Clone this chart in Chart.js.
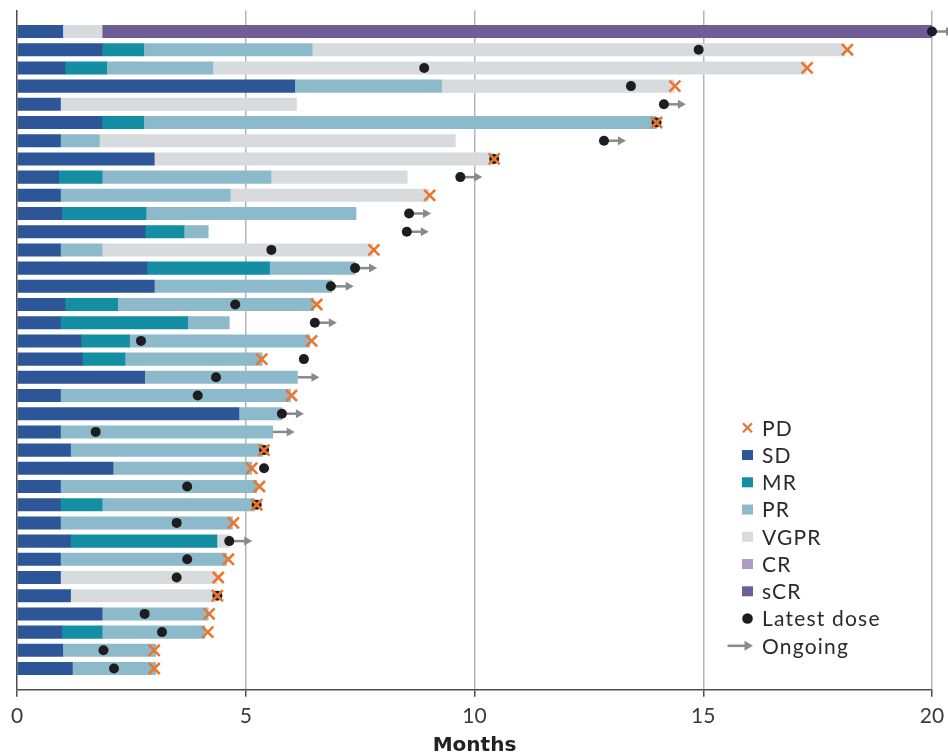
<!DOCTYPE html>
<html>
<head>
<meta charset="utf-8">
<script src="https://cdn.jsdelivr.net/npm/chart.js@4.4.1/dist/chart.umd.min.js"></script>
<style>
  html, body { margin: 0; padding: 0; background: #fff; }
  #wrap { width: 948px; height: 754px; position: relative; }
</style>
</head>
<body>
<div id="wrap"><canvas id="swimmer"></canvas></div>
<script>
// one entry per patient, top row first
// months spent in each response category (null = not reached)
const sd   = [1.0, 1.86, 1.05, 6.07, 0.95, 1.86, 0.95, 3.0, 0.91, 0.95, 0.98, 2.8, 0.95, 2.84, 3.0, 1.05, 0.95, 1.4, 1.43, 2.79, 0.95, 4.85, 0.95, 1.17, 2.1, 0.95, 0.95, 0.95, 1.17, 0.95, 0.95, 1.17, 1.86, 0.98, 1.0, 1.21];
const mr   = [null, 0.91, 0.91, null, null, 0.91, null, null, 0.95, null, 1.84, 0.85, null, 2.68, null, 1.15, 2.78, 1.06, 0.93, null, null, null, null, null, null, null, 0.91, null, 3.2, null, null, null, null, 0.88, null, null];
const pr   = [null, 3.68, 2.32, 3.21, null, 11.2, 0.85, null, 3.69, 3.71, 4.59, 0.53, 0.91, 1.87, 3.88, 4.28, 0.91, 3.94, 3.0, 3.34, 5.03, 0.94, 4.64, 4.2, 3.03, 4.29, 3.34, 3.76, null, 3.63, null, null, 2.32, 2.25, 2.03, 1.82];
const vgpr = [0.86, 11.65, 12.97, 5.09, 5.16, null, 7.78, 7.43, 2.98, 4.34, null, null, 5.92, null, null, null, null, null, null, null, null, null, null, null, null, null, null, null, 0.29, null, 3.42, 3.18, null, null, null, null];
const cr   = new Array(36).fill(null);
const scr  = [18.14, null, null, null, null, null, null, null, null, null, null, null, null, null, null, null, null, null, null, null, null, null, null, null, null, null, null, null, null, null, null, null, null, null, null, null];

// month of progressive disease
const pd = [null, 18.15, 17.27, 14.38, null, 13.98, null, 10.43, null, 9.02, null, null, 7.8, null, null, 6.55, null, 6.44, 5.35, null, 6.0, null, null, 5.4, 5.13, 5.3, 5.24, 4.73, null, 4.62, 4.4, 4.38, 4.2, 4.17, 3.0, 3.0];
// month of latest dose
const latestDose = [20, 14.9, 8.9, 13.42, 14.14, 13.98, 12.83, 10.43, 9.69, null, 8.57, 8.52, 5.56, 7.39, 6.86, 4.77, 6.51, 2.71, 6.27, 4.35, 3.95, 5.79, 1.72, 5.4, 5.4, 3.72, 5.24, 3.49, 4.64, 3.72, 3.49, 4.38, 2.79, 3.17, 1.89, 2.12];
// 1 = still on treatment
const ongoing = [1, 0, 0, 0, 1, 0, 1, 0, 1, 0, 1, 1, 0, 1, 1, 0, 1, 0, 0, 1, 0, 1, 1, 0, 0, 0, 0, 0, 1, 0, 0, 0, 0, 0, 0, 0];

const monthTicks = [0, 5, 10, 15, 20];
const responseNames = ['SD', 'MR', 'PR', 'VGPR', 'CR', 'sCR'];
const responseColors = ['#2c5697', '#138ea2', '#8dbacb', '#d7dbde', '#ab9dc7', '#705d97'];
const legendLabels = ['PD', 'SD', 'MR', 'PR', 'VGPR', 'CR', 'sCR', 'Latest dose', 'Ongoing'];

const pdColor = '#e87630';
const doseColor = '#1d1d1f';
const arrowColor = '#8a8a8a';

const segments = [sd, mr, pr, vgpr, cr, scr];

function toPoints(arr) {
  return arr.map((v, i) => ({ x: v, y: i + 1 }));
}

function rowTotal(i) {
  let t = 0;
  segments.forEach(s => { if (s[i] != null) t += s[i]; });
  return t;
}

const barSets = segments.map((s, k) => ({
  type: 'bar',
  label: responseNames[k],
  data: toPoints(s),
  backgroundColor: responseColors[k],
  borderWidth: 0,
  barThickness: 12.4,
  order: 3
}));

// arrows start at the end of the bar or at the latest dose, whichever is later
const arrowPlugin = {
  id: 'ongoingArrows',
  beforeDatasetsDraw(chart) {
    const { ctx } = chart;
    const xs = chart.scales.x, ys = chart.scales.y;
    ctx.save();
    ctx.strokeStyle = arrowColor;
    ctx.fillStyle = arrowColor;
    ctx.lineWidth = 2.5;
    ongoing.forEach((on, i) => {
      if (!on) return;
      const start = Math.max(rowTotal(i), latestDose[i] || 0);
      const x0 = xs.getPixelForValue(start);
      const yy = ys.getPixelForValue(i + 1);
      ctx.beginPath();
      ctx.moveTo(x0, yy);
      ctx.lineTo(x0 + 15, yy);
      ctx.stroke();
      ctx.beginPath();
      ctx.moveTo(x0 + 14, yy - 4.5);
      ctx.lineTo(x0 + 22, yy);
      ctx.lineTo(x0 + 14, yy + 4.5);
      ctx.closePath();
      ctx.fill();
    });
    ctx.restore();
  }
};

const legendPlugin = {
  id: 'swimLegend',
  afterDraw(chart) {
    const { ctx, chartArea } = chart;
    const sx = chartArea.right - 184.5;
    const y0 = chartArea.bottom - 262;
    const step = 27.25;
    ctx.save();
    ctx.font = '21px Lato';
    ctx.letterSpacing = '1.2px';
    ctx.textBaseline = 'middle';
    ctx.textAlign = 'left';
    legendLabels.forEach((lab, i) => {
      const yy = y0 + i * step;
      if (lab === 'PD') {
        ctx.strokeStyle = pdColor;
        ctx.lineWidth = 2.2;
        ctx.beginPath();
        ctx.moveTo(sx - 4.5, yy - 4.5); ctx.lineTo(sx + 4.5, yy + 4.5);
        ctx.moveTo(sx + 4.5, yy - 4.5); ctx.lineTo(sx - 4.5, yy + 4.5);
        ctx.stroke();
      } else if (lab === 'Latest dose') {
        ctx.fillStyle = doseColor;
        ctx.beginPath();
        ctx.arc(sx, yy, 5.3, 0, Math.PI * 2);
        ctx.fill();
      } else if (lab === 'Ongoing') {
        ctx.strokeStyle = arrowColor;
        ctx.fillStyle = arrowColor;
        ctx.lineWidth = 2.5;
        ctx.beginPath();
        ctx.moveTo(sx - 20, yy); ctx.lineTo(sx - 2, yy);
        ctx.stroke();
        ctx.beginPath();
        ctx.moveTo(sx - 3, yy - 5); ctx.lineTo(sx + 5.5, yy); ctx.lineTo(sx - 3, yy + 5);
        ctx.closePath();
        ctx.fill();
      } else {
        ctx.fillStyle = responseColors[responseNames.indexOf(lab)];
        ctx.fillRect(sx - 5.5, yy - 5, 11, 10);
      }
      ctx.fillStyle = '#2a2a2a';
      ctx.fillText(lab, sx + 14.5, yy + 1);
    });
    ctx.restore();
  }
};

new Chart(document.getElementById('swimmer'), {
  type: 'bar',
  data: {
    datasets: [
      {
        type: 'scatter',
        label: 'PD',
        data: toPoints(pd),
        pointStyle: 'crossRot',
        pointRadius: 7.8,
        borderColor: pdColor,
        borderWidth: 2.6,
        stack: 'pd',
        clip: false,
        order: 1
      },
      {
        type: 'scatter',
        label: 'Latest dose',
        data: toPoints(latestDose),
        pointStyle: 'circle',
        pointRadius: 5,
        backgroundColor: doseColor,
        borderWidth: 0,
        stack: 'dose',
        clip: false,
        order: 2
      },
      ...barSets
    ]
  },
  options: {
    indexAxis: 'y',
    responsive: true,
    maintainAspectRatio: false,
    devicePixelRatio: 1,
    animation: false,
    layout: { padding: { left: 17, right: 16, top: 9.5, bottom: 0 } },
    plugins: {
      legend: { display: false },
      tooltip: { enabled: false }
    },
    scales: {
      x: {
        type: 'linear',
        stacked: true,
        min: 0,
        max: 20,
        afterBuildTicks: s => { s.ticks = monthTicks.map(v => ({ value: v })); },
        // the "20" label may hang past the plot edge, as in the original
        afterFit: s => { s.paddingRight = 0; s.paddingLeft = 0; },
        ticks: {
          font: { family: 'Lato', size: 21, lineHeight: 1.2 },
          color: '#3b3b3b',
          padding: 7,
          maxRotation: 0
        },
        grid: {
          color: c => (c.tick && c.tick.value === 0) ? 'rgba(0,0,0,0)' : '#b0b7c0',
          lineWidth: 1.5,
          tickColor: '#4d4d4d',
          tickLength: 7,
          tickWidth: 1.5
        },
        border: { color: '#4d4d4d', width: 1.5 },
        title: {
          display: true,
          text: 'Months',
          color: '#222',
          font: { family: 'DejaVu Sans', size: 20, weight: 'bold', lineHeight: 1 },
          padding: { top: 0, bottom: -2 }
        }
      },
      y: {
        type: 'linear',
        stacked: true,
        reverse: true,
        offset: false,
        min: -0.16,
        max: 37.17,
        ticks: { display: false },
        grid: { display: false, drawTicks: false, tickLength: 0, offset: false },
        border: { display: true, color: '#4d4d4d', width: 1.5 }
      }
    }
  },
  plugins: [arrowPlugin, legendPlugin]
});
</script>
</body>
</html>
